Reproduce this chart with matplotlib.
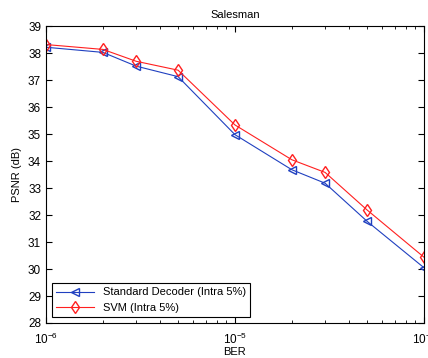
import numpy as np
import matplotlib
matplotlib.use('Agg')
import matplotlib.pyplot as plt

ber = [1e-6, 2e-6, 3e-6, 5e-6, 1e-5, 2e-5, 3e-5, 5e-5, 1e-4]
psnr_std = [38.22, 38.03, 37.52, 37.13, 34.98, 33.68, 33.18, 31.77, 30.05]
psnr_svm = [38.32, 38.14, 37.70, 37.37, 35.34, 34.05, 33.58, 32.19, 30.44]

plt.rcParams['font.family'] = ['Liberation Sans', 'DejaVu Sans']
plt.rcParams['font.size'] = 8

fig = plt.figure(figsize=(4.28, 3.58), dpi=100)
ax = fig.add_axes([0.1075, 0.0978, 0.883, 0.829])

ax.semilogx(ber, psnr_std, color='#2040c0', marker='<', mfc='none', ms=6,
            lw=0.8, label='Standard Decoder (Intra 5%)')
ax.semilogx(ber, psnr_svm, color='#ff2020', marker='d', mfc='none', ms=6,
            lw=0.8, label='SVM (Intra 5%)')

ax.set_xlim(1e-6, 1e-4)
ax.set_ylim(28, 39)
ax.set_yticks(np.arange(28, 40, 1))
ax.tick_params(which='both', direction='in', top=True, right=True, labelsize=8.5)
ax.tick_params(which='major', length=4)
ax.tick_params(which='minor', length=2.5)
ax.tick_params(axis='x', which='major', pad=6)
for s in ax.spines.values():
    s.set_linewidth(0.8)

ax.set_title('Salesman', fontsize=8)
ax.set_xlabel('BER', fontsize=8, labelpad=0)
ax.set_ylabel('PSNR (dB)', fontsize=8)

leg = ax.legend(loc='lower left', fontsize=8, fancybox=False, edgecolor='black',
                framealpha=1, borderaxespad=0.5, handlelength=3.4, numpoints=1,
                labelspacing=0.5)
leg.get_frame().set_linewidth(0.8)

fig.savefig('out.png', dpi=100)
